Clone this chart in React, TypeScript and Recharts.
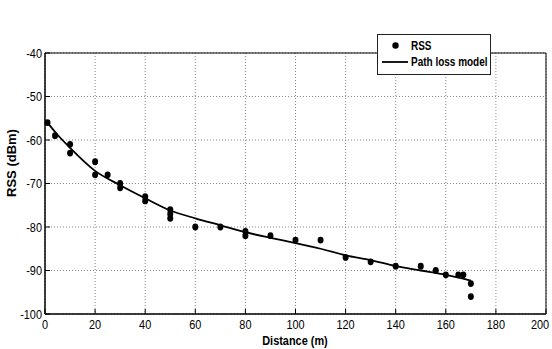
import React from "react";
import {
  ComposedChart,
  Scatter,
  Line,
  XAxis,
  YAxis,
  CartesianGrid,
  ReferenceArea,
  Legend,
} from "recharts";

const xTicks = [0, 20, 40, 60, 80, 100, 120, 140, 160, 180, 200];
const yTicks = [-100, -90, -80, -70, -60, -50, -40];

// measured RSS samples
const rssDistance = [1, 4, 10, 10, 20, 20, 25, 30, 30, 40, 40, 50, 50, 50, 60, 70, 80, 80, 90, 100, 110, 120, 130, 140, 150, 156, 160, 165, 167, 170, 170];
const rssValue = [-56, -59, -61, -63, -65, -68, -68, -70, -71, -73, -74, -76, -77, -78, -80, -80, -81, -82, -82, -83, -83, -87, -88, -89, -89, -90, -91, -91, -91, -93, -96];

// fitted path loss curve
const modelDistance = [1, 5, 10, 20, 30, 40, 50, 60, 70, 80, 90, 100, 110, 120, 130, 140, 150, 160, 170];
const modelValue = [-56, -58.8, -61.8, -67.1, -70.4, -73.4, -76.2, -78, -79.6, -81.2, -82.5, -83.7, -85, -86.5, -87.6, -89, -90, -91, -92.3];

const rssData = rssDistance.map((d, i) => ({ x: d, y: rssValue[i] }));
const modelData = modelDistance.map((d, i) => ({ x: d, y: modelValue[i] }));

const font = "'Liberation Sans', Arial, sans-serif";
const squeeze = 0.84;

// narrow look of the original: squeeze text horizontally around its anchor
const narrow = (x: number, s = squeeze) => `translate(${x} 0) scale(${s} 1) translate(${-x} 0)`;

const XTick = ({ x, y, payload }: any) => (
  <text x={x} y={y} dy="0.72em" textAnchor="middle" transform={narrow(x)} fontFamily={font} fontSize={13} fill="#000">
    {payload.value}
  </text>
);

const YTick = ({ x, y, payload }: any) => (
  <text x={x} y={y} dy="0.36em" textAnchor="end" transform={narrow(x)} fontFamily={font} fontSize={13} fill="#000">
    {payload.value}
  </text>
);

const renderLegend = () => (
  <svg width={114} height={41} style={{ display: "block", background: "#fff" }}>
    <rect x={0.5} y={0.5} width={113} height={40} fill="#fff" stroke="#222" />
    <circle cx={18.5} cy={11.5} r={3.2} fill="#000" />
    <line x1={5} x2={31} y1={28} y2={28} stroke="#000" strokeWidth={1.8} />
    <text x={34} y={16} transform={narrow(34, 0.8)} fontFamily={font} fontWeight="bold" fontSize={12.5} fill="#000">
      RSS
    </text>
    <text x={34} y={32} transform={narrow(34, 0.8)} fontFamily={font} fontWeight="bold" fontSize={12.5} fill="#000">
      Path loss model
    </text>
  </svg>
);

export default function App() {
  return (
    <div style={{ position: "absolute", left: 0, top: 0, background: "#fff" }}>
      <ComposedChart
        width={552}
        height={349}
        margin={{ top: 12, right: 6, left: 0, bottom: 0 }}
      >
        <CartesianGrid stroke="#888" strokeDasharray="1 2" />
        <XAxis
          dataKey="x"
          type="number"
          domain={[0, 200]}
          ticks={xTicks}
          height={35}
          axisLine={{ stroke: "#000" }}
          tickLine={{ stroke: "#000" }}
          tickSize={-5}
          tickMargin={11}
          tick={<XTick />}
          label={{
            content: () => (
              <text x={295} y={345} textAnchor="middle" transform={narrow(295)} fontFamily={font} fontWeight="bold" fontSize={13} fill="#000">
                Distance (m)
              </text>
            ),
          }}
        />
        <XAxis
          xAxisId="top"
          orientation="top"
          type="number"
          domain={[0, 200]}
          ticks={xTicks}
          height={0}
          axisLine={{ stroke: "#000" }}
          tickLine={{ stroke: "#000" }}
          tickSize={-5}
          tick={false}
        />
        <YAxis
          dataKey="y"
          type="number"
          domain={[-100, -40]}
          ticks={yTicks}
          width={45}
          axisLine={{ stroke: "#000" }}
          tickLine={{ stroke: "#000" }}
          tickSize={-5}
          tickMargin={8}
          tick={<YTick />}
          label={{
            content: () => (
              <text
                x={11}
                y={163}
                transform="rotate(-90 11 163)"
                textAnchor="middle"
                dominantBaseline="central"
                fontFamily={font}
                fontWeight="bold"
                fontSize={13}
                fill="#000"
              >
                RSS (dBm)
              </text>
            ),
          }}
        />
        <YAxis
          yAxisId="right"
          orientation="right"
          type="number"
          domain={[-100, -40]}
          ticks={yTicks}
          width={0}
          axisLine={{ stroke: "#000" }}
          tickLine={{ stroke: "#000" }}
          tickSize={-5}
          tick={false}
        />
        <ReferenceArea x1={0} x2={200} y1={-100} y2={-40} fill="none" stroke="#000" strokeWidth={1} />
        <Line
          data={modelData}
          dataKey="y"
          type="monotone"
          stroke="#000"
          strokeWidth={1.8}
          dot={false}
          activeDot={false}
          isAnimationActive={false}
          legendType="none"
        />
        <Scatter
          data={rssData}
          dataKey="y"
          fill="#000"
          isAnimationActive={false}
          shape={(p: any) => <ellipse cx={p.cx} cy={p.cy} rx={3} ry={3.4} fill="#000" />}
        />
        <Legend
          layout="vertical"
          align="center"
          verticalAlign="top"
          content={renderLegend}
          wrapperStyle={{ left: 377, top: 34, width: 114, height: 41 }}
        />
      </ComposedChart>
    </div>
  );
}
